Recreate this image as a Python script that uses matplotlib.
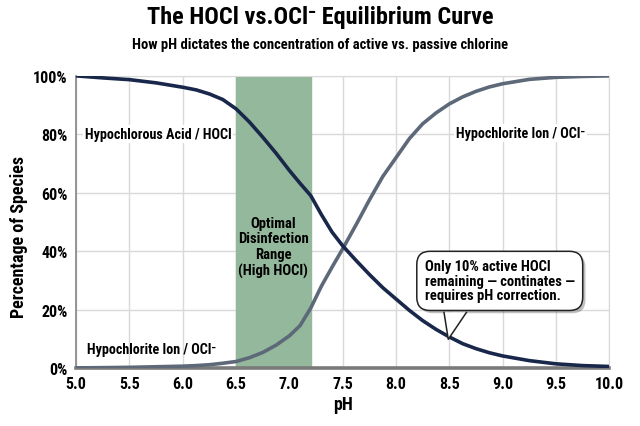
import numpy as np
import matplotlib
matplotlib.use('Agg')
import matplotlib.pyplot as plt
from matplotlib import patheffects as pe
from matplotlib import font_manager as fm

# pick a condensed sans if one is installed, else plain Liberation Sans
names = {f.name for f in fm.fontManager.ttflist}
wanted = ['Liberation Sans Narrow', 'Arial Narrow', 'Roboto Condensed',
          'Noto Sans Condensed', 'Open Sans Condensed', 'DejaVu Sans Condensed']
face = next((n for n in wanted if n in names), None)
k = 1.0
if face is None:
    face = 'Liberation Sans'
    k = 0.9
plt.rcParams['font.family'] = [face, 'Liberation Sans', 'DejaVu Sans']
plt.rcParams['font.weight'] = 'bold'
plt.rcParams['axes.labelweight'] = 'bold'

# values
ph = [5.0, 5.25, 5.5, 5.75, 6.0, 6.125, 6.25, 6.375, 6.5, 6.625, 6.75, 6.875, 7.0, 7.1,
      7.2, 7.3, 7.4, 7.5, 7.625, 7.75, 7.875, 8.0, 8.125, 8.25, 8.375, 8.5, 8.625, 8.75,
      8.875, 9.0, 9.25, 9.5, 9.75, 10.0]
hocl = [100, 99.3, 98.7, 97.6, 96.1, 95.2, 93.8, 91.9, 88.7, 84.2, 79, 73.5, 67.6, 63.2,
        59, 52.5, 46.5, 41.8, 36.8, 32, 27.5, 23.6, 19.7, 16.2, 13.2, 10.6, 8.3, 6.6,
        5.2, 4.1, 2.5, 1.4, 0.8, 0.5]
ocl = [0, 0.1, 0.2, 0.4, 0.6, 0.8, 1.1, 1.6, 2.2, 3.5, 5.3, 7.8, 11, 14.5,
       20.5, 28, 34.5, 40.8, 49, 57.5, 65.5, 72, 78.5, 83.6, 87.3, 90.4, 92.8, 94.7,
       96.2, 97.3, 98.8, 99.5, 99.8, 100]
band = (6.5, 7.2)
xticks = np.arange(5.0, 10.01, 0.5)
yticks = [0, 20, 40, 60, 80, 100]

navy = '#18274a'
slate = '#5d6979'

fig = plt.figure(figsize=(6.4, 4.27), dpi=100)
ax = fig.add_axes([0.119, 0.136, 0.833, 0.684])

ax.axvspan(band[0], band[1], color='#94b89b', zorder=1)
ax.plot(ph, ocl, color=slate, lw=2.6, zorder=3, solid_joinstyle='round')
ax.plot(ph, hocl, color=navy, lw=2.6, zorder=4, solid_joinstyle='round')

ax.set_xlim(5.0, 10.0)
ax.set_ylim(0, 100)
ax.set_xticks(xticks)
ax.set_xticklabels(['%.1f' % v for v in xticks])
ax.set_yticks(yticks)
ax.set_yticklabels(['%d%%' % v for v in yticks])
ax.grid(True, color='#d9d9d9', lw=1.0, zorder=0)
ax.set_axisbelow(True)
ax.tick_params(length=0, labelsize=11.5 * k, pad=6)
for s in ['top', 'right']:
    ax.spines[s].set_color('#d9d9d9')
ax.spines['left'].set_color('#8c8c8c')
ax.spines['left'].set_linewidth(1.3)
ax.spines['bottom'].set_color('#7a7a7a')
ax.spines['bottom'].set_linewidth(2.6)

ax.set_xlabel('pH', fontsize=13 * k, labelpad=3)
ax.set_ylabel('Percentage of Species', fontsize=13 * k)
ax.yaxis.set_label_coords(-0.09, 0.45)

fig.text(0.5, 0.958, 'The HOCl vs.OCl⁻ Equilibrium Curve', ha='center', va='center',
         fontsize=17.5 * k)
fig.text(0.5, 0.895, 'How pH dictates the concentration of active vs. passive chlorine',
         ha='center', va='center', fontsize=10.5 * k)

ax.text(5.08, 80, 'Hypochlorous Acid / HOCl', fontsize=10.2 * k, va='center', ha='left',
        zorder=5, bbox=dict(fc='white', ec='none', pad=1.5))
ax.text(5.1, 6.5, 'Hypochlorite Ion / OCl⁻', fontsize=10.2 * k, va='center', ha='left',
        zorder=5)
ax.text(8.56, 80.5, 'Hypochlorite Ion / OCl⁻', fontsize=10.2 * k, va='center', ha='left',
        zorder=5, bbox=dict(fc='white', ec='none', pad=1.5))
ax.text(6.85, 41.5, 'Optimal\nDisinfection\nRange\n(High HOCl)', fontsize=10.5 * k,
        ha='center', va='center', linespacing=1.15, zorder=5)

call = ax.text(8.27, 29.8, 'Only 10% active HOCl\nremaining — continates —\nrequires pH correction.',
               fontsize=10.5 * k, ha='left', va='center', linespacing=1.05, zorder=6,
               bbox=dict(boxstyle='round,pad=0.55,rounding_size=0.9', fc='white',
                         ec='#222222', lw=1.1))
call.get_bbox_patch().set_path_effects([pe.SimplePatchShadow(offset=(2, -2), alpha=0.35),
                                        pe.Normal()])
# speech-bubble tail
tail_x = [8.45, 8.49, 8.66]
tail_y = [19.0, 9.8, 19.0]
ax.fill(tail_x, tail_y, color='white', zorder=7, lw=0)
ax.plot(tail_x, tail_y, color='#222222', lw=1.1, zorder=7)

fig.savefig('out.png', dpi=100)
